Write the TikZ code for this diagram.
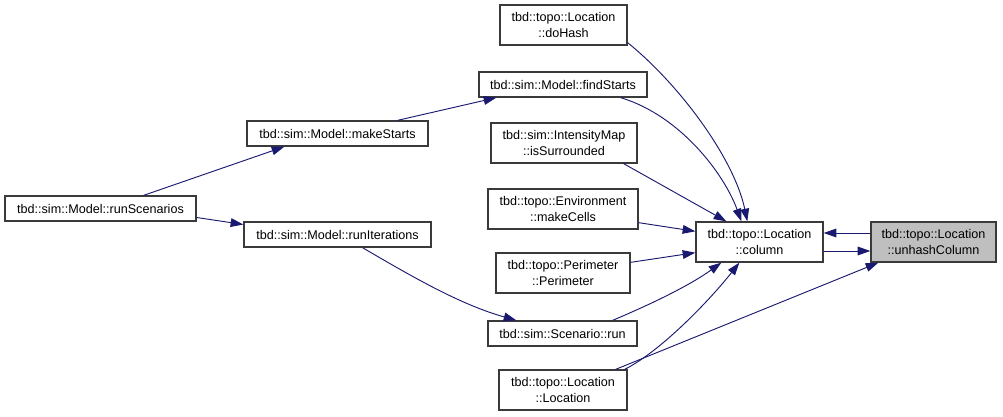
\documentclass[tikz,border=0pt]{standalone}
\usepackage{fontspec}
\setmainfont{Liberation Sans}
\usetikzlibrary{arrows.meta,calc}
\definecolor{edgeblue}{HTML}{191970}
\definecolor{boxline}{HTML}{3A3A3A}
\definecolor{hilite}{HTML}{BFBFBF}
\begin{document}
\begin{tikzpicture}[x=0.75pt,y=-0.75pt,
  fn/.style 2 args={draw=boxline,line width=1pt,fill=white,inner sep=0pt,align=center,
    minimum width=#1*0.75pt,minimum height=#2*0.75pt,
    font=\fontsize{9.45pt}{11.3pt}\selectfont},
  cur/.style={fill=hilite},
  call/.style={draw=edgeblue,line width=0.7pt,-{Triangle[length=9.5pt,width=6.5pt]},fill=none}]
\useasboundingbox (0,0) rectangle (1003,417);
\node[fn={127}{40}] (doHash) at (563.5,25) {tbd::topo::Location\\::doHash};
\node[fn={168}{25}] (findStarts) at (563,84.5) {tbd::sim::Model::findStarts};
\node[fn={146}{40}] (isSur) at (564,143) {tbd::sim::IntensityMap\\::isSurrounded};
\node[fn={150}{40}] (makeCells) at (563,209) {tbd::topo::Environment\\::makeCells};
\node[fn={134}{40}] (perim) at (563,273) {tbd::topo::Perimeter\\::Perimeter};
\node[fn={149}{25}] (scenRun) at (562.5,333.5) {tbd::sim::Scenario::run};
\node[fn={128}{40}] (loc) at (563,390) {tbd::topo::Location\\::Location};
\node[fn={127}{40}] (column) at (759.5,242) {tbd::topo::Location\\::column};
\node[fn={125}{40},cur] (unhash) at (933.5,242) {tbd::topo::Location\\::unhashColumn};
\node[fn={181}{25}] (makeStarts) at (337.5,133.5) {tbd::sim::Model::makeStarts};
\node[fn={191}{25}] (runScen) at (100.5,208.5) {tbd::sim::Model::runScenarios};
\node[fn={187}{25}] (runIter) at (337.5,234.5) {tbd::sim::Model::runIterations};

\draw[call] ($(doHash.south east)+(0,-3)$) .. controls +(53,43) and +(-13,-62) .. ($(column.north west)+(52,0)$);
\draw[call] ($(findStarts.south east)+(-27,0)$) .. controls +(60,18) and +(-17,-47) .. ($(column.north west)+(46,0)$);
\draw[call] ($(isSur.south east)+(-14,0)$) -- ($(column.north west)+(31,0)$);
\draw[call] ($(makeCells.south east)+(0,-7)$) -- ($(column.north west)+(0,10)$);
\draw[call] ($(perim.north east)+(0,10)$) -- ($(column.south west)+(0,-10)$);
\draw[call] ($(scenRun.north east)+(-25,0)$) .. controls +(38,-16) and +(-32,23) .. ($(column.south west)+(26,0)$);
\draw[call] ($(loc.north east)+(-3,0)$) .. controls +(36,-18) and +(-30,38) .. ($(column.south west)+(44,0)$);
\draw[call] ($(loc.north east)+(-12,0)$) -- ($(unhash.south west)+(8,0)$);
\draw[call] ($(column.east)+(0,9)$) -- ($(unhash.west)+(0,9)$);
\draw[call] ($(unhash.west)+(0,-9)$) -- ($(column.east)+(0,-9)$);
\draw[call] ($(makeStarts.north east)+(-31,0)$) -- ($(findStarts.south west)+(18,0)$);
\draw[call] ($(runScen.north east)+(-53,0)$) -- ($(makeStarts.south west)+(38,0)$);
\draw[call] ($(runScen.east)+(0,9)$) -- ($(runIter.west)+(0,-10)$);
\draw[call] ($(runIter.south)+(25,0)$) .. controls +(48,28) and +(-57,-16) .. ($(scenRun.north west)+(29,0)$);
\end{tikzpicture}
\end{document}
